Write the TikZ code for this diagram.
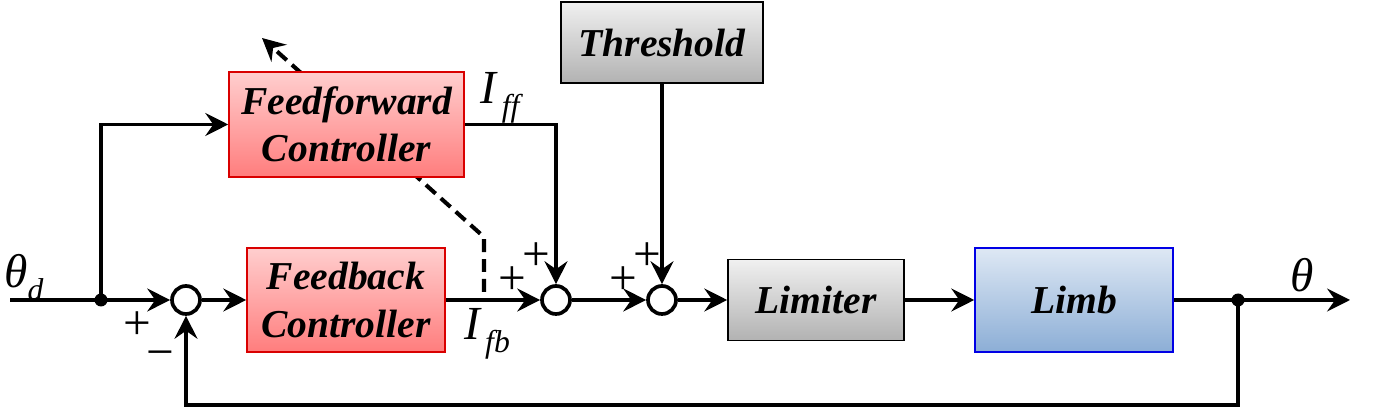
\documentclass[tikz,border=0pt]{standalone}
\usepackage{fontspec}
\setmainfont{Liberation Serif}
\usetikzlibrary{arrows.meta}

\definecolor{redtop}{RGB}{255,206,206}
\definecolor{redbot}{RGB}{255,125,125}
\definecolor{graytop}{RGB}{240,240,240}
\definecolor{graybot}{RGB}{178,178,178}
\definecolor{bluetop}{RGB}{222,232,244}
\definecolor{bluebot}{RGB}{140,174,214}

\newcommand{\sig}[2]{\itshape\fontsize{27}{27}\selectfont #1\raisebox{-0.6ex}{\fontsize{18}{18}\selectfont #2}}

\begin{document}
\begin{tikzpicture}[x=0.02cm, y=0.02cm, line width=2.1pt, >={Stealth[length=13pt,width=13pt,inset=4.5pt]},
  blkfont/.style={font=\bfseries\itshape\fontsize{22.5}{27}\selectfont, align=center, inner sep=0pt},
  redbox/.style={blkfont, draw=red!85!black, line width=0.9pt, top color=redtop, bottom color=redbot},
  graybox/.style={blkfont, draw=black, line width=0.9pt, top color=graytop, bottom color=graybot},
  bluebox/.style={blkfont, draw=blue!90!black, line width=0.9pt, top color=bluetop, bottom color=bluebot},
  sumpt/.style={circle, draw, fill=white, line width=2.1pt, minimum size=0.56cm, inner sep=0pt},
  dot/.style={circle, fill, minimum size=0.26cm, inner sep=0pt},
  sign/.style={font=\fontsize{28}{28}\selectfont, inner sep=0pt}]
  \useasboundingbox (0,0) rectangle (1378,408);
  % adaptation path (behind the feedforward block)
  \coordinate (dsA) at (484,116);
  \coordinate (dsB) at (484,171);
  \coordinate (dsC) at (262,370);
  \draw[->, line width=2.3pt, dash pattern=on 0.26cm off 0.14cm] (dsA) -- (dsB) -- (dsC);
  % blocks
  \node[redbox, minimum width=3.96cm, minimum height=2.08cm] (fb) at (346,108) {Feedback\\Controller};
  \node[redbox, minimum width=4.7cm, minimum height=2.1cm] (ff) at (346.5,283.5) {Feedforward\\Controller};
  \node[graybox, minimum width=4.04cm, minimum height=1.62cm] (thr) at (662,365.5) {Threshold};
  \node[graybox, minimum width=3.52cm, minimum height=1.62cm] (lim) at (816,108) {Limiter};
  \node[bluebox, minimum width=3.96cm, minimum height=2.08cm] (limb) at (1074,108) {Limb};
  \node[sumpt] (s1) at (186,108) {};
  \node[sumpt] (s2) at (556,108) {};
  \node[sumpt] (s3) at (662,108) {};
  \node[dot] (j1) at (101,108) {};
  \node[dot] (j2) at (1238,108) {};
  \coordinate (in) at (10,108);
  \coordinate (out) at (1350,108);
  \coordinate (ret) at (1238,3);
  % signal flow
  \draw (in) -- (j1.center);
  \draw[->] (j1.center) -- (s1);
  \draw[->] (j1.center) |- (ff);
  \draw[->] (s1) -- (fb);
  \draw[->] (fb) -- (s2);
  \draw[->] (ff) -| (s2);
  \draw[->] (s2) -- (s3);
  \draw[->, line width=2.8pt] (thr) -- (s3);
  \draw[->] (s3) -- (lim);
  \draw[->] (lim) -- (limb);
  \draw (limb) -- (j2.center);
  \draw[->] (j2.center) -- (out);
  \draw[->] (j2.center) -- (ret) -| (s1);
  % labels
  \node[inner sep=0pt] (thd) at (24,130) {\sig{θ}{d}};
  \node[inner sep=0pt] (th) at (1302,127) {\sig{θ}{}};
  \node[inner sep=0pt] (iff) at (500,310) {\sig{I}{\,ff}};
  \node[inner sep=0pt] (ifb) at (487,74) {\sig{I}{\,fb}};
  \node[sign] (p1) at (137,82) {+};
  \node[sign] (m1) at (160,48) {−};
  \node[sign] (p2a) at (536,151) {+};
  \node[sign] (p2b) at (512,127) {+};
  \node[sign] (p3a) at (647,151) {+};
  \node[sign] (p3b) at (623,127) {+};
\end{tikzpicture}
\end{document}
